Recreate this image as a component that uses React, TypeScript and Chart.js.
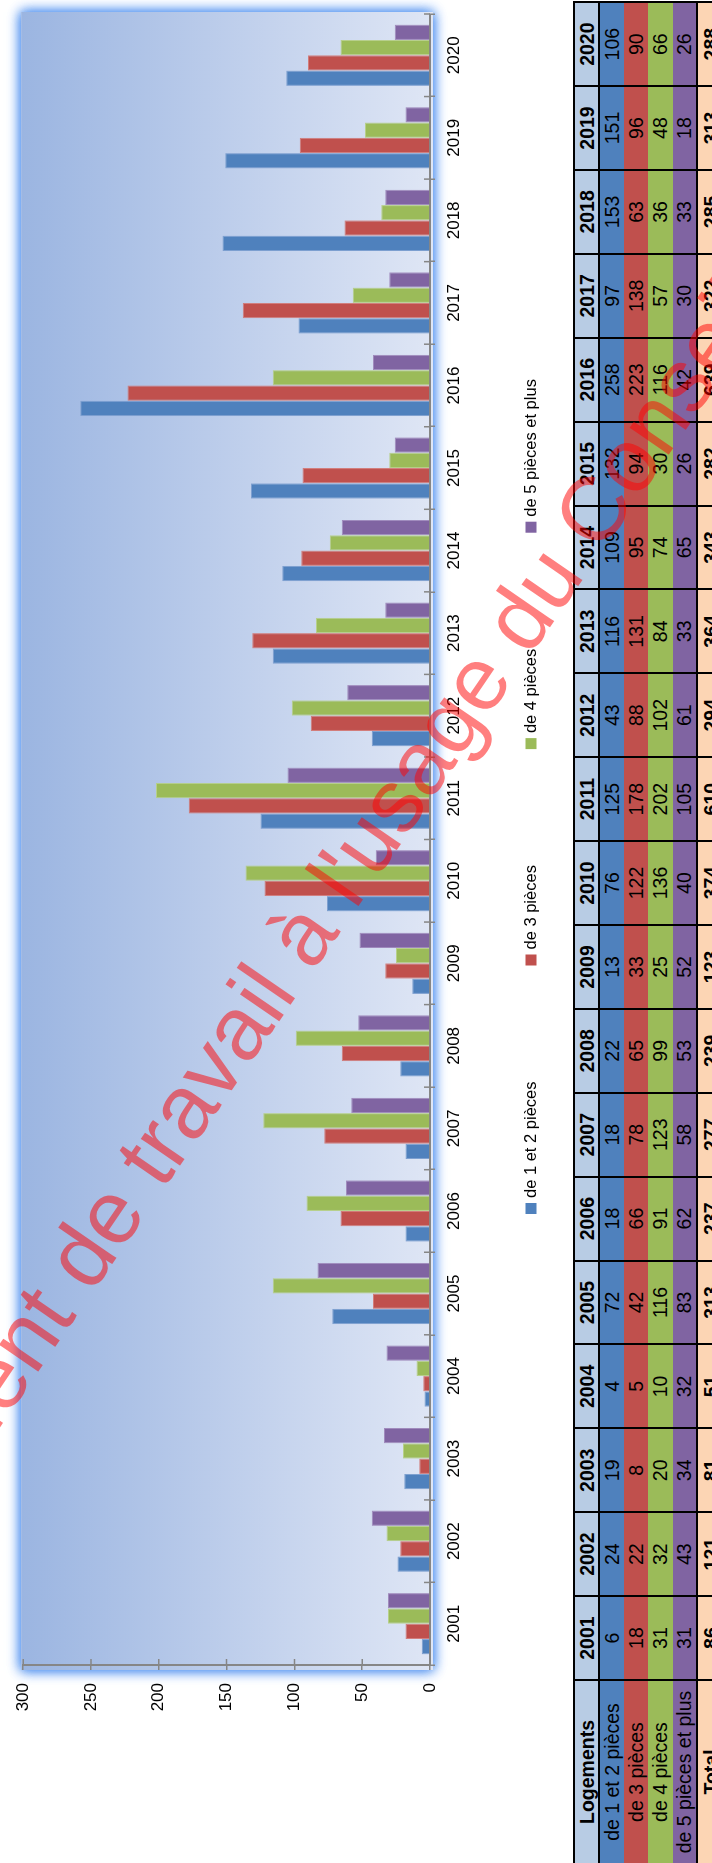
import React, { useEffect, useRef } from 'react';
import { Chart, registerables } from 'chart.js';

Chart.register(...registerables);

// ---- data ----
const years = ['2001', '2002', '2003', '2004', '2005', '2006', '2007', '2008', '2009', '2010', '2011', '2012', '2013', '2014', '2015', '2016', '2017', '2018', '2019', '2020'];
const seriesNames = ['de 1 et 2 pièces', 'de 3 pièces', 'de 4 pièces', 'de 5 pièces et plus'];
const pieces12 = [6, 24, 19, 4, 72, 18, 18, 22, 13, 76, 125, 43, 116, 109, 132, 258, 97, 153, 151, 106];
const pieces3 = [18, 22, 8, 5, 42, 66, 78, 65, 33, 122, 178, 88, 131, 95, 94, 223, 138, 63, 96, 90];
const pieces4 = [31, 32, 20, 10, 116, 91, 123, 99, 25, 136, 202, 102, 84, 74, 30, 116, 57, 36, 48, 66];
const pieces5 = [31, 43, 34, 32, 83, 62, 58, 53, 52, 40, 105, 61, 33, 65, 26, 42, 30, 33, 18, 26];
const yTicks = [0, 50, 100, 150, 200, 250, 300];
const tableHeader = 'Logements';
const totalLabel = 'Total';
const watermark = "Document de travail à l'usage du Conseil";

const seriesValues = [pieces12, pieces3, pieces4, pieces5];
const colors = ['#4f81bd', '#c0504d', '#9bbb59', '#8064a2'];
const edgeColors = ['#7d9fd0', '#d27c7a', '#b7d08a', '#a08bbd'];
const totals = years.map((_, i) => seriesValues.reduce((s, arr) => s + arr[i], 0));

// ---- layout (landscape, then rotated) ----
const LW = 1863;
const LH = 712;
const CANVAS_H = 560;
const FONT = "'Liberation Sans', Arial, sans-serif";
const AXIS_COLOR = '#868686';

const bgPlugin = {
  id: 'plotBg',
  beforeDraw(chart: any) {
    const ctx = chart.ctx;
    const a = chart.chartArea;
    const x0 = a.left - 5, x1 = a.right + 2, y0 = a.top - 2, y1 = a.bottom + 3;
    ctx.save();
    ctx.shadowColor = 'rgba(80,145,240,1)';
    ctx.shadowBlur = 12;
    ctx.fillStyle = '#dfe6f5';
    ctx.fillRect(x0, y0, x1 - x0, y1 - y0);
    ctx.fillRect(x0, y0, x1 - x0, y1 - y0);
    ctx.restore();
    ctx.save();
    const g = ctx.createLinearGradient(0, y0, 0, y1);
    g.addColorStop(0, '#9bb5e1');
    g.addColorStop(1, '#dfe6f5');
    ctx.fillStyle = g;
    ctx.fillRect(x0, y0, x1 - x0, y1 - y0);
    ctx.restore();
  },
};

const innerTicksPlugin = {
  id: 'innerTicks',
  afterDatasetsDraw(chart: any) {
    const ctx = chart.ctx;
    const a = chart.chartArea;
    const ys = chart.scales.y;
    const n = chart.data.labels.length;
    ctx.save();
    ctx.strokeStyle = AXIS_COLOR;
    ctx.lineWidth = 1.5;
    ctx.beginPath();
    yTicks.forEach((v) => {
      const y = ys.getPixelForValue(v);
      ctx.moveTo(a.left, y);
      ctx.lineTo(a.left + 6, y);
    });
    for (let i = 0; i <= n; i++) {
      const x = a.left + ((a.right - a.left) * i) / n;
      ctx.moveTo(x, a.bottom);
      ctx.lineTo(x, a.bottom - 6);
    }
    ctx.stroke();
    ctx.restore();
  },
};

const legendPlugin = {
  id: 'customLegend',
  afterDraw(chart: any) {
    const ctx = chart.ctx;
    ctx.save();
    ctx.font = `16.5px ${FONT}`;
    ctx.textBaseline = 'middle';
    ctx.textAlign = 'left';
    let x = 649;
    const y = 531;
    chart.data.datasets.forEach((ds: any) => {
      ctx.fillStyle = ds.backgroundColor;
      ctx.fillRect(x, y - 5.5, 11, 11);
      ctx.fillStyle = '#000';
      ctx.fillText(ds.label, x + 16, y);
      x += 16 + ctx.measureText(ds.label).width + 116;
    });
    ctx.restore();
  },
};

function BarChart() {
  const ref = useRef<HTMLCanvasElement>(null);
  useEffect(() => {
    if (!ref.current) return;
    const chart = new Chart(ref.current, {
      type: 'bar',
      data: {
        labels: years,
        datasets: seriesNames.map((name, i) => ({
          label: name,
          data: seriesValues[i],
          backgroundColor: colors[i],
          borderColor: edgeColors[i],
          borderWidth: 1,
        })),
      },
      options: {
        animation: false,
        responsive: false,
        devicePixelRatio: 1,
        layout: { padding: { left: 0, right: 14, top: 19, bottom: 90 } },
        datasets: { bar: { categoryPercentage: 0.742, barPercentage: 1 } },
        plugins: { legend: { display: false }, tooltip: { enabled: false } },
        scales: {
          x: {
            grid: { offset: true, drawOnChartArea: false, drawTicks: true, tickLength: 5, color: AXIS_COLOR, lineWidth: 1.5 },
            border: { display: true, color: AXIS_COLOR, width: 2 },
            ticks: { font: { family: FONT, size: 17 }, color: '#000', padding: 9, maxRotation: 0, minRotation: 0, autoSkip: false },
            afterFit: (s: any) => { s.height = 40; },
          },
          y: {
            min: 0,
            max: 300,
            grid: { drawOnChartArea: false, drawTicks: true, tickLength: 5, color: AXIS_COLOR, lineWidth: 1.5 },
            border: { display: true, color: AXIS_COLOR, width: 2 },
            ticks: { stepSize: 50, font: { family: FONT, size: 17 }, color: '#000', padding: 13 },
            afterFit: (s: any) => { s.width = 198; },
          },
        },
      },
      plugins: [bgPlugin, innerTicksPlugin, legendPlugin],
    } as any);
    return () => chart.destroy();
  }, []);
  return (
    <canvas
      ref={ref}
      width={LW}
      height={CANVAS_H}
      style={{ position: 'absolute', left: 0, top: 0, width: LW, height: CANVAS_H }}
    />
  );
}

function DataTable() {
  const rowH = [25, 24.5, 24.5, 24.5, 24.5, 26];
  const base: React.CSSProperties = {
    borderLeft: '2px solid #000',
    borderRight: '2px solid #000',
    padding: 0,
    textAlign: 'center',
    verticalAlign: 'middle',
    whiteSpace: 'nowrap',
    overflow: 'hidden',
    lineHeight: '20px',
  };
  const header: React.CSSProperties = { ...base, background: '#b8cce4', fontWeight: 'bold', borderTop: '2px solid #000', borderBottom: '2px solid #000' };
  const total: React.CSSProperties = { ...base, background: '#fcd5b4', fontWeight: 'bold', borderTop: '2px solid #000' };
  return (
    <table
      style={{
        position: 'absolute',
        left: -2,
        top: 573,
        borderCollapse: 'collapse',
        tableLayout: 'fixed',
        width: 184 + 83.9 * years.length,
        fontFamily: FONT,
        fontSize: 19.5,
        color: '#000',
      }}
    >
      <colgroup>
        <col style={{ width: 184 }} />
        {years.map((y) => (
          <col key={y} style={{ width: 83.9 }} />
        ))}
      </colgroup>
      <tbody>
        <tr style={{ height: rowH[0] }}>
          <td style={header}>{tableHeader}</td>
          {years.map((y) => (
            <td key={y} style={header}>{y}</td>
          ))}
        </tr>
        {seriesNames.map((name, si) => (
          <tr key={name} style={{ height: rowH[si + 1] }}>
            <td style={{ ...base, background: colors[si] }}>{name}</td>
            {seriesValues[si].map((v, i) => (
              <td key={i} style={{ ...base, background: colors[si] }}>{v}</td>
            ))}
          </tr>
        ))}
        <tr style={{ height: rowH[5] }}>
          <td style={total}>{totalLabel}</td>
          {totals.map((v, i) => (
            <td key={i} style={total}>{v}</td>
          ))}
        </tr>
      </tbody>
    </table>
  );
}

export default function App() {
  return (
    <div style={{ position: 'absolute', left: 0, top: 0, width: LH, height: LW, overflow: 'hidden', background: '#fff' }}>
      <div
        style={{
          position: 'absolute',
          left: 0,
          top: 0,
          width: LW,
          height: LH,
          transformOrigin: '0 0',
          transform: `translate(0px, ${LW}px) rotate(-90deg)`,
          background: '#fff',
        }}
      >
        <BarChart />
        <DataTable />
        <svg
          width={LW}
          height={LH}
          style={{ position: 'absolute', left: 0, top: 0, pointerEvents: 'none' }}
        >
          <text
            x={210}
            y={-155}
            transform="rotate(34.5 210 -155)"
            fontFamily={FONT}
            fontSize={90}
            fill="#ff0000"
            fillOpacity={0.5}
          >
            {watermark}
          </text>
        </svg>
      </div>
    </div>
  );
}
